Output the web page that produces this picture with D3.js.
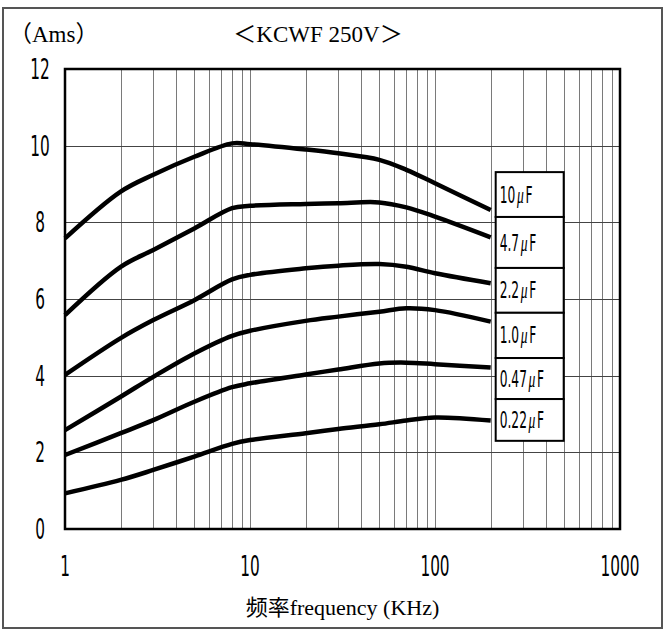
<!DOCTYPE html>
<html>
<head>
<meta charset="utf-8">
<script src="https://cdn.jsdelivr.net/npm/d3@7"></script>
<style>
  body { margin: 0; background: #fff; }
  svg { display: block; }
  .narrow { font-family: "DejaVu Sans", "Liberation Sans", sans-serif; font-stretch: condensed; }
</style>
</head>
<body>
<svg id="graph"></svg>
<script>
  "use strict";

  // donnees
  var freqs = [1, 2, 3, 5, 8, 10, 20, 30, 50, 70, 100, 200];
  var labels = ["10", "4.7", "2.2", "1.0", "0.47", "0.22"];
  var c10   = [7.58, 8.80, 9.24, 9.71, 10.06, 10.04, 9.90, 9.80, 9.63, 9.37, 9.02, 8.32];
  var c4_7  = [5.58, 6.84, 7.28, 7.84, 8.37, 8.43, 8.48, 8.50, 8.52, 8.39, 8.15, 7.61];
  var c2_2  = [4.02, 4.98, 5.45, 5.97, 6.51, 6.63, 6.80, 6.87, 6.91, 6.84, 6.67, 6.41];
  var c1_0  = [2.58, 3.45, 3.97, 4.58, 5.04, 5.17, 5.43, 5.54, 5.67, 5.76, 5.71, 5.41];
  var c0_47 = [1.93, 2.50, 2.84, 3.32, 3.70, 3.80, 4.03, 4.16, 4.32, 4.34, 4.30, 4.21];
  var c0_22 = [0.93, 1.28, 1.54, 1.89, 2.22, 2.32, 2.50, 2.61, 2.73, 2.83, 2.91, 2.83];
  var series = [c10, c4_7, c2_2, c1_0, c0_47, c0_22];
  var yTicks = [0, 2, 4, 6, 8, 10, 12];
  var xTicks = [1, 10, 100, 1000];
  // limites des cases de legende (en Ams)
  var boxEdges = [9.31, 8.14, 6.81, 5.64, 4.46, 3.39, 2.30];

  var W = 664, H = 630;
  var margin = {top: 69, right: 44, bottom: 101, left: 65};
  var serif = "'Liberation Serif', 'Times New Roman', 'Noto Sans CJK JP', serif";

  var svg = d3.select("#graph").attr("width", W).attr("height", H);

  var x = d3.scaleLog().domain([1, 1000]).range([margin.left, W - margin.right]);
  var y = d3.scaleLinear().domain([0, 12]).range([H - margin.bottom, margin.top]);

  // cadre exterieur
  svg.append("rect")
    .attr("x", 3).attr("y", 8).attr("width", W - 5).attr("height", H - 10)
    .attr("fill", "none").attr("stroke", "#555").attr("stroke-width", 2);

  // grille
  var minor = [];
  for (var d = 1; d < 1000; d *= 10) {
    for (var k = 2; k <= 10; k++) minor.push(d * k);
  }
  svg.append("g").selectAll("line").data(minor.filter(v => v < 1000)).enter().append("line")
    .attr("x1", v => Math.round(x(v)) + 0.5).attr("x2", v => Math.round(x(v)) + 0.5)
    .attr("y1", y(12)).attr("y2", y(0))
    .attr("stroke", "#7a7a7a").attr("stroke-width", 1);

  svg.append("g").selectAll("line").data(yTicks.filter(v => v > 0 && v < 12)).enter().append("line")
    .attr("x1", x(1)).attr("x2", x(1000))
    .attr("y1", v => Math.round(y(v)) + 0.5).attr("y2", v => Math.round(y(v)) + 0.5)
    .attr("stroke", "#444").attr("stroke-width", 1);

  // axes : labels a la main, police etroite etiree
  var tickLabel = function(g, px, py, txt) {
    g.append("text")
      .attr("class", "narrow")
      .attr("transform", "translate(" + px + "," + py + ") scale(0.85,1.4)")
      .attr("text-anchor", "middle")
      .attr("dy", "0.36em")
      .style("font-size", "20px")
      .attr("fill", "#000")
      .text(txt);
  };

  var gy = svg.append("g");
  yTicks.forEach(function(v) { tickLabel(gy, 40, y(v), v); });
  var gx = svg.append("g");
  xTicks.forEach(function(v) { tickLabel(gx, x(v), 566, v); });

  // courbes
  var line = d3.line()
    .x((v, i) => x(freqs[i]))
    .y(v => y(v))
    .curve(d3.curveCatmullRom.alpha(0.5));

  svg.append("g").selectAll("path").data(series).enter().append("path")
    .attr("d", line)
    .attr("fill", "none")
    .attr("stroke", "#000")
    .attr("stroke-width", 4.5)
    .attr("stroke-linejoin", "round");

  // cadre du graphique
  svg.append("rect")
    .attr("x", x(1)).attr("y", y(12))
    .attr("width", x(1000) - x(1)).attr("height", y(0) - y(12))
    .attr("fill", "none").attr("stroke", "#000").attr("stroke-width", 2.5);

  // legende en cases
  var bx = x(200) + 5, bw = 68;
  var lg = svg.append("g");
  labels.forEach(function(lab, i) {
    var y0 = y(boxEdges[i]), y1 = y(boxEdges[i + 1]);
    lg.append("rect")
      .attr("x", bx).attr("y", y0).attr("width", bw).attr("height", y1 - y0)
      .attr("fill", "#fff").attr("stroke", "#000").attr("stroke-width", 2);
    var t = lg.append("text")
      .attr("class", "narrow")
      .attr("transform", "translate(" + (bx + 4) + "," + ((y0 + y1) / 2) + ") scale(0.85,1.4)")
      .attr("dy", "0.36em")
      .style("font-size", "16px");
    t.append("tspan").text(lab);
    t.append("tspan").attr("dx", 2).style("font-style", "italic").style("font-family", serif).text("\u03bc");
    t.append("tspan").attr("dx", 2).text("F");
  });

  // titres
  svg.append("text")
    .attr("x", 9).attr("y", 42)
    .style("font-family", serif).style("font-size", "23px")
    .text("\uff08Ams\uff09");
  svg.append("text")
    .attr("x", 318).attr("y", 42).attr("text-anchor", "middle")
    .style("font-family", serif).style("font-size", "23px")
    .text("\uff1cKCWF 250V\uff1e");
  svg.append("text")
    .attr("x", (x(1) + x(1000)) / 2).attr("y", 615).attr("text-anchor", "middle")
    .style("font-family", serif).style("font-size", "22px")
    .text("\u9891\u7387frequency (KHz)");
</script>
</body>
</html>
